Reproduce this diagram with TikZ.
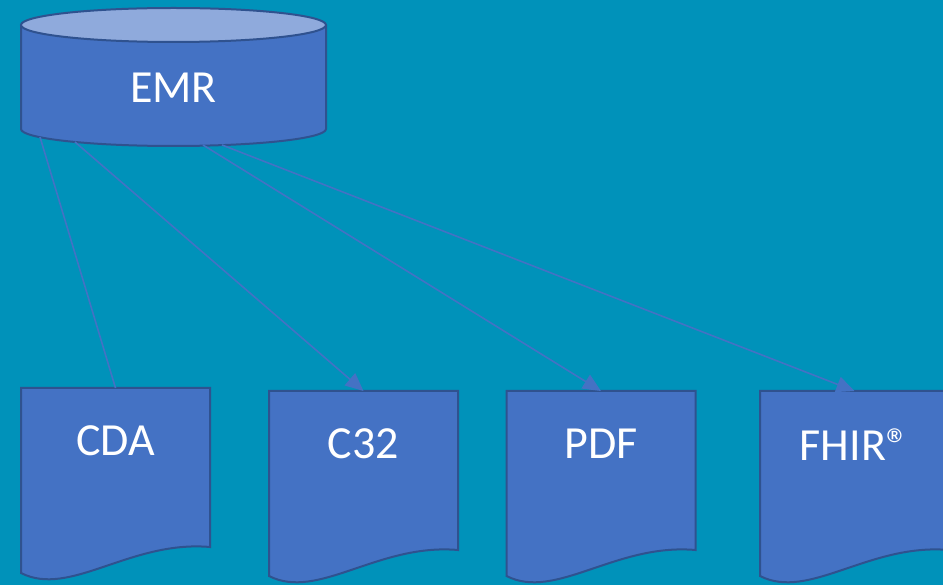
\documentclass[tikz,border=0pt]{standalone}
\usepackage{fontspec}
\setmainfont{Carlito}
\usetikzlibrary{arrows.meta}
\definecolor{bgteal}{RGB}{0,146,186}
\definecolor{boxblue}{RGB}{68,114,196}
\definecolor{boxedge}{RGB}{47,82,143}
\definecolor{lidblue}{RGB}{143,170,220}
\tikzset{
	shapeline/.style={draw=boxedge, line width=2pt, fill=boxblue},
	doclabel/.style={anchor=north, minimum width=189pt, minimum height=106pt, inner sep=0pt, text=white, font=\fontsize{46}{50}\selectfont},
	link/.style={draw=boxblue, line width=1.6pt},
	linkarrow/.style={link, -{Triangle[length=18pt,width=16pt]}}
}
% document sheet with wavy bottom, #2 = center x, #3 = top y
\newcommand{\docsheet}[4]{%
	\draw[shapeline] (#2-94.5,#3) -- (#2+94.5,#3) -- (#2+94.5,#3+159)
		.. controls (#2+14.5,#3+152) and (#2-45.5,#3+210) .. (#2-94.5,#3+185) -- cycle;
	\node[doclabel] (#1) at (#2,#3) {#4};
}
\begin{document}
\begin{tikzpicture}[x=1pt,y=-1pt]
	\useasboundingbox (0,0) rectangle (943,585);
	\clip (0,0) rectangle (943,585);
	\fill[bgteal] (0,0) rectangle (943,585);

	% EMR cylinder
	\draw[shapeline] (21,25) -- (21,129) arc (180:0:152.5 and 17) -- (326,25);
	\draw[shapeline, fill=lidblue] (173.5,25) ellipse (152.5 and 17);
	\node[text=white, font=\fontsize{46}{50}\selectfont] (emr) at (173.5,88) {EMR};
	\coordinate (emr-a) at (40,137);
	\coordinate (emr-b) at (75,142);
	\coordinate (emr-c) at (203,145);
	\coordinate (emr-d) at (222,145);

	% output formats
	\docsheet{cda}{115.5}{388}{CDA}
	\docsheet{c32}{363.5}{391}{C32}
	\docsheet{pdf}{601}{391}{PDF}
	\docsheet{fhir}{854.5}{391}{FHIR®}

	\draw[link] (emr-a) -- (cda.north);
	\draw[linkarrow] (emr-b) -- (c32.north);
	\draw[linkarrow] (emr-c) -- (pdf.north);
	\draw[linkarrow] (emr-d) -- (fhir.north);
\end{tikzpicture}
\end{document}
